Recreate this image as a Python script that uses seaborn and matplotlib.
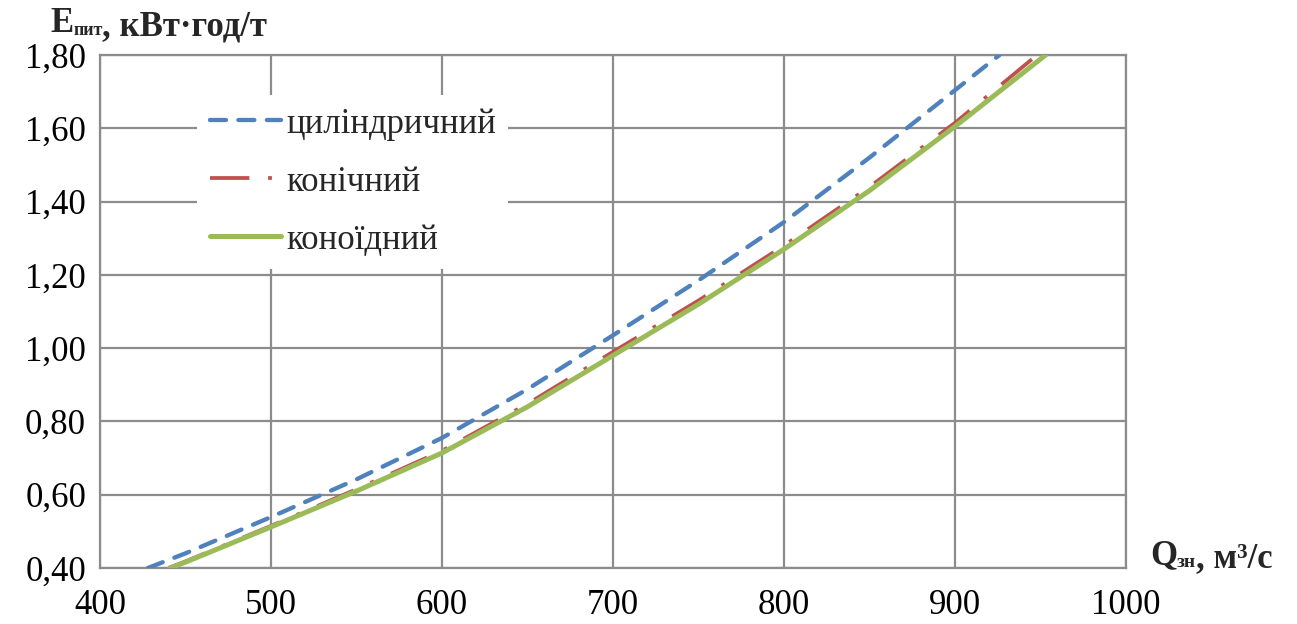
import numpy as np
import pandas as pd
import seaborn as sns
import matplotlib.pyplot as plt

# --- data ---
x_cyl = [428, 450, 500, 550, 600, 650, 700, 750, 800, 850, 900, 926]
y_cyl = [0.40, 0.44, 0.539, 0.642, 0.755, 0.888, 1.035, 1.185, 1.344, 1.52, 1.704, 1.80]

x_con = [440, 450, 500, 550, 600, 650, 700, 750, 800, 850, 900, 948]
y_con = [0.40, 0.418, 0.515, 0.615, 0.72, 0.848, 0.99, 1.13, 1.28, 1.44, 1.615, 1.80]

x_cnd = [441, 450, 500, 550, 600, 650, 700, 750, 800, 850, 900, 953]
y_cnd = [0.40, 0.416, 0.512, 0.61, 0.714, 0.84, 0.98, 1.12, 1.27, 1.43, 1.605, 1.80]

labels = ["циліндричний", "конічний", "коноїдний"]
x_ticks = [400, 500, 600, 700, 800, 900, 1000]
y_ticks = [0.40, 0.60, 0.80, 1.00, 1.20, 1.40, 1.60, 1.80]

df = pd.concat([
    pd.DataFrame({"Q": x_cyl, "E": y_cyl, "s": labels[0]}),
    pd.DataFrame({"Q": x_con, "E": y_con, "s": labels[1]}),
    pd.DataFrame({"Q": x_cnd, "E": y_cnd, "s": labels[2]}),
])

sns.set_theme(style="white")
plt.rcParams["font.family"] = ["Liberation Serif", "DejaVu Serif"]

fig = plt.figure(figsize=(12.97, 6.24), dpi=100)
ax = fig.add_axes([100 / 1297, 1 - 568 / 624, 1026 / 1297, 513 / 624])

grid_c = "#8c8c8c"
fs = 25
styles = {
    labels[0]: dict(color="#4F81BD", lw=3.1, dashes=(3.7, 2.9), dash_capstyle="round"),
    labels[1]: dict(color="#C0504D", lw=2.7, dashes=(10.5, 5.0, 1.0, 5.0)),
    labels[2]: dict(color="#9BBB59", lw=3.6, ls="-"),
}
for name in labels:
    sub = df[df["s"] == name]
    sns.lineplot(data=sub, x="Q", y="E", ax=ax, label=name, zorder=3, **styles[name])

ax.set_xlim(400, 1000)
ax.set_ylim(0.40, 1.80)
ax.set_xticks(x_ticks)
ax.set_yticks(y_ticks)
ax.set_xticklabels([str(v) for v in x_ticks])
ax.set_yticklabels([f"{v:.2f}".replace(".", ",") for v in y_ticks])
ax.grid(True, color=grid_c, lw=1.6)
for sp in ax.spines.values():
    sp.set_color(grid_c)
    sp.set_linewidth(1.6)
ax.tick_params(axis="both", length=8, width=1.6, color=grid_c, labelsize=fs,
               labelcolor="black", direction="out")
ax.tick_params(axis="x", pad=7)
ax.tick_params(axis="y", pad=2)
ax.set_xlabel("")
ax.set_ylabel("")

leg = ax.legend(loc="upper left", bbox_to_anchor=(0.078, 0.955), fontsize=fs,
                frameon=True, facecolor="white", edgecolor="white", framealpha=1,
                handlelength=2.05, handletextpad=0.16, labelspacing=0.72,
                borderpad=0.35, fancybox=False)
leg.get_frame().set_linewidth(0)

# axis titles with subscripts
t1 = fig.text(50 / 1297, 1 - 24 / 624, "E", fontsize=fs, fontweight="bold", va="center")
t2 = ax.annotate("пит", xy=(1, 0.05), xycoords=t1, fontsize=13, fontweight="bold",
                 va="bottom", ha="left", annotation_clip=False)
ax.annotate(", кВт·год/т", xy=(1, 0), xycoords=t2, xytext=(0, -3),
            textcoords="offset points", fontsize=fs, fontweight="bold",
            va="bottom", ha="left", annotation_clip=False)

q1 = fig.text(1150 / 1297, 1 - 556 / 624, "Q", fontsize=fs, fontweight="bold", va="center")
q2 = ax.annotate("зн", xy=(1, 0.05), xycoords=q1, fontsize=14, fontweight="bold",
                 va="bottom", ha="left", annotation_clip=False)
ax.annotate(", м³/с", xy=(1, 0), xycoords=q2, xytext=(0, -3),
            textcoords="offset points", fontsize=fs, fontweight="bold",
            va="bottom", ha="left", annotation_clip=False)

fig.savefig("out.png", dpi=100)
